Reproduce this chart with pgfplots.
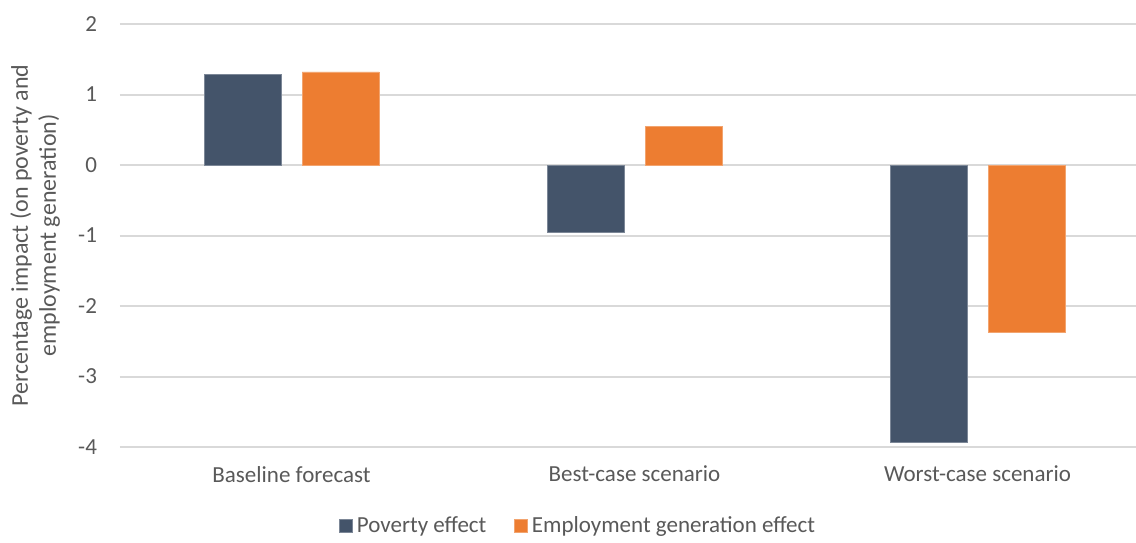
\documentclass[border=0pt]{standalone}
\usepackage{fontspec}
\setmainfont{Carlito}
\usepackage{pgfplots}
\pgfplotsset{compat=1.18}

\definecolor{slate}{HTML}{44546A}
\definecolor{orng}{HTML}{ED7D31}
\definecolor{gridgray}{HTML}{D9D9D9}
\definecolor{txtgray}{HTML}{595959}

\begin{document}
\begin{tikzpicture}
  \begin{axis}[
      scale only axis,
      width=508pt, height=211.5pt,
      ybar=10.5pt, bar width=38.5pt,
      xmin=-0.5, xmax=2.462,
      ymin=-4, ymax=2,
      xtick=data,
      xticklabels={Baseline forecast, Best-case scenario, Worst-case scenario},
      ytick={-4,-3,...,2},
      yticklabels={-4,-3,-2,-1,0,1,2},
      ymajorgrids,
      major grid style={gridgray, line width=1pt},
      axis line style={draw=none},
      tick style={draw=none},
      major tick length=0pt,
      font=\fontsize{11.5}{13.5}\selectfont,
      ticklabel style={text=txtgray},
      yticklabel style={anchor=east, xshift=-8pt},
      xticklabel style={anchor=north, yshift=-6pt},
      ylabel={Percentage impact (on poverty and\\employment generation)},
      ylabel style={align=center, text=txtgray, font=\fontsize{12}{14}\selectfont,
        at={(axis description cs:-0.0836,0.5)}, anchor=center},
      legend columns=2,
      legend style={draw=none, at={(axis description cs:0.452,-0.186)}, anchor=center,
        text=txtgray, font=\fontsize{11.5}{13.5}\selectfont,
        /tikz/every even column/.append style={column sep=12pt}},
      legend image code/.code={\fill[#1] (0pt,-3.2pt) rectangle (6.4pt,3.2pt);},
    ]
    \addplot[fill=slate, draw=slate!70] coordinates {(0,1.28) (1,-0.95) (2,-3.94)};
    \addplot[fill=orng, draw=orng!70] coordinates {(0,1.32) (1,0.55) (2,-2.38)};
    \legend{Poverty effect, Employment generation effect}
  \end{axis}
  \pgfresetboundingbox
  \useasboundingbox (-60pt,-47.5pt) rectangle (508pt,223.5pt);
\end{tikzpicture}
\end{document}
